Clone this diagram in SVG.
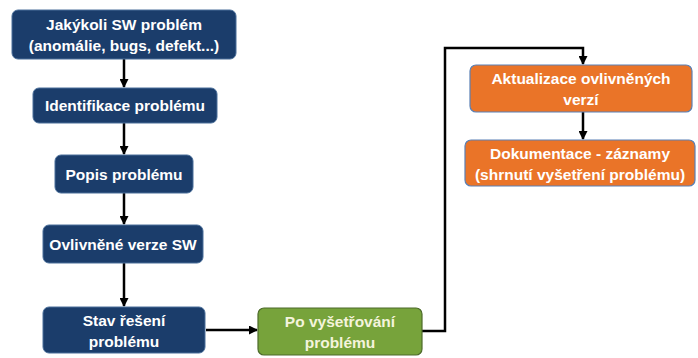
<svg xmlns="http://www.w3.org/2000/svg" width="698" height="358" viewBox="0 0 698 358">
<defs>
<marker id="ah" markerWidth="9" markerHeight="9" refX="8" refY="4.5" orient="auto" markerUnits="userSpaceOnUse">
<path d="M0,0 L9,4.5 L0,9 Z" fill="#000"/>
</marker>
<style>
.blue{fill:#1b3d6b;stroke:#4a6f9a;stroke-width:1}
.green{fill:#77a33b;stroke:#4d6b2a;stroke-width:1.2}
.orange{fill:#ea7428;stroke:#5a80b5;stroke-width:1.2}
text{font-family:"Liberation Sans",Arial,sans-serif;font-weight:bold;font-size:15.5px;fill:#fff;text-anchor:middle}
.c{fill:none;stroke:#000;stroke-width:2.5}
</style>
</defs>
<rect width="698" height="358" fill="#fff"/>
<g id="connectors">
<line class="c" x1="124" y1="59" x2="124" y2="87" marker-end="url(#ah)"/>
<line class="c" x1="124" y1="123" x2="124" y2="154" marker-end="url(#ah)"/>
<line class="c" x1="124" y1="193" x2="124" y2="224" marker-end="url(#ah)"/>
<line class="c" x1="124" y1="263" x2="124" y2="306" marker-end="url(#ah)"/>
<line class="c" x1="206" y1="330" x2="257" y2="330" marker-end="url(#ah)"/>
<polyline class="c" points="422,331 445,331 445,48 583,48 583,64" marker-end="url(#ah)"/>
<line class="c" x1="583" y1="112" x2="583" y2="139" marker-end="url(#ah)"/>
</g>
<g id="n1"><rect class="blue" x="12" y="10" width="224" height="49" rx="6"/><text x="124" y="30">Jakýkoli SW problém</text><text x="124" y="51">(anomálie, bugs, defekt...)</text></g>
<g id="n2"><rect class="blue" x="33" y="88" width="184" height="35" rx="6"/><text x="125" y="111">Identifikace problému</text></g>
<g id="n3"><rect class="blue" x="55" y="155" width="138" height="38" rx="6"/><text x="124" y="180">Popis problému</text></g>
<g id="n4"><rect class="blue" x="43" y="225" width="160" height="38" rx="6"/><text x="123" y="250">Ovlivněné verze SW</text></g>
<g id="n5"><rect class="blue" x="43" y="307" width="162" height="46" rx="6"/><text x="124" y="326">Stav řešení</text><text x="124" y="347">problému</text></g>
<g id="n6"><rect class="green" x="258" y="308" width="164" height="47" rx="6"/><text x="340" y="327" style="fill:#f4f4dc">Po vyšetřování</text><text x="340" y="348" style="fill:#f4f4dc">problému</text></g>
<g id="n7"><rect class="orange" x="470" y="65" width="222" height="47" rx="6"/><text x="581" y="84">Aktualizace ovlivněných</text><text x="581" y="105">verzí</text></g>
<g id="n8"><rect class="orange" x="465" y="140" width="230" height="46" rx="6"/><text x="580" y="159">Dokumentace - záznamy</text><text x="580" y="180">(shrnutí vyšetření problému)</text></g>
</svg>
